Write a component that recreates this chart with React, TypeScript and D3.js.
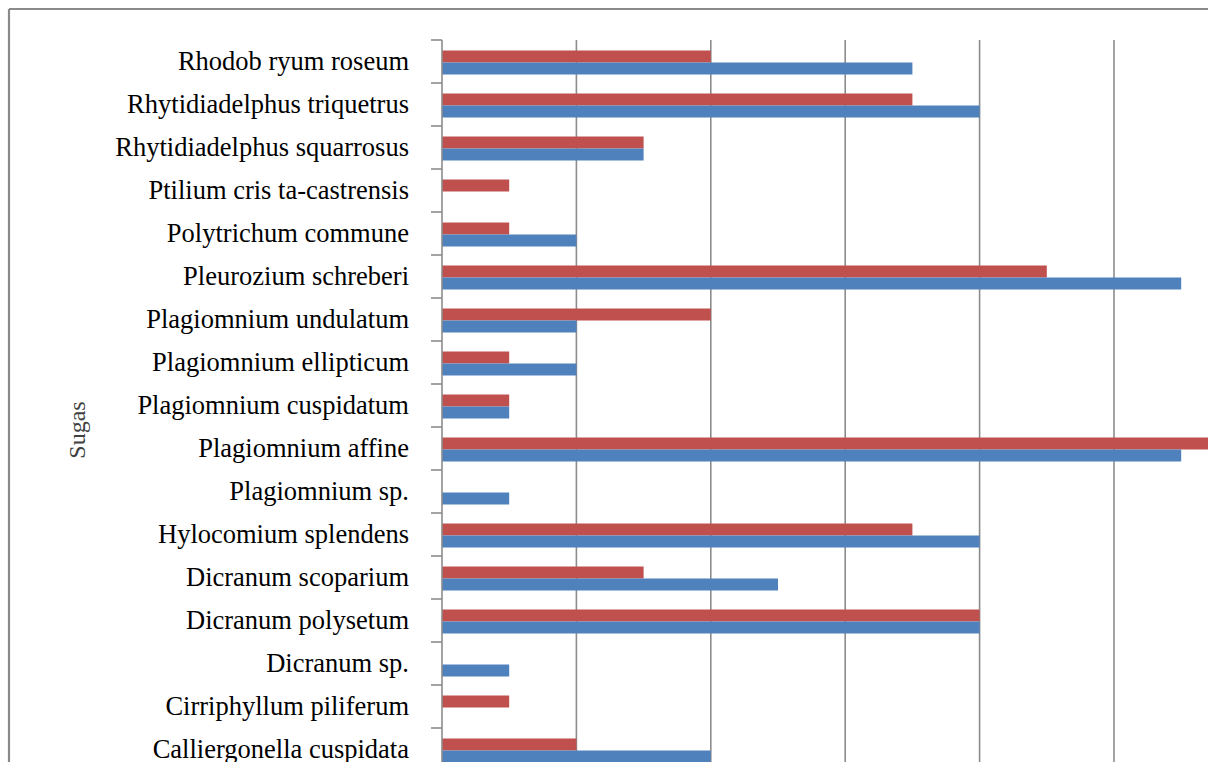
import React from "react";
import * as d3 from "d3";

const categories = [
  "Rhodob ryum roseum",
  "Rhytidiadelphus triquetrus",
  "Rhytidiadelphus squarrosus",
  "Ptilium cris ta-castrensis",
  "Polytrichum commune",
  "Pleurozium schreberi",
  "Plagiomnium undulatum",
  "Plagiomnium ellipticum",
  "Plagiomnium cuspidatum",
  "Plagiomnium affine",
  "Plagiomnium sp.",
  "Hylocomium splendens",
  "Dicranum scoparium",
  "Dicranum polysetum",
  "Dicranum sp.",
  "Cirriphyllum piliferum",
  "Calliergonella cuspidata",
];

const redValues = [4, 7, 3, 1, 1, 9, 4, 1, 1, 12, 0, 7, 3, 8, 0, 1, 2];
const blueValues = [7, 8, 3, 0, 2, 11, 2, 2, 1, 11, 1, 8, 5, 8, 1, 0, 4];
const xTicks = [0, 2, 4, 6, 8, 10, 12];
const axisTitle = "Sugas";

const W = 1208;
const H = 762;
const plotLeft = 442;
const plotTop = 40;
const bandStep = 43;
const unitPx = 67.2;

export default function App() {
  const x = d3.scaleLinear().domain([0, 12]).range([plotLeft, plotLeft + 12 * unitPx]);
  const y = d3
    .scaleBand<string>()
    .domain(categories)
    .range([plotTop, plotTop + bandStep * categories.length])
    .paddingInner(0)
    .paddingOuter(0);
  const sub = d3.scaleBand<string>().domain(["red", "blue"]).range([10.5, 34.5]).padding(0);

  const font = "'Liberation Serif', 'Times New Roman', serif";

  return (
    <svg
      width={W}
      height={H}
      style={{ position: "absolute", left: 0, top: 0, display: "block", background: "#fff" }}
    >
      {/* outer frame */}
      <line x1={9} y1={9} x2={9} y2={H} stroke="#8a8a8a" strokeWidth={2.2} />
      <line x1={9} y1={9} x2={W} y2={9} stroke="#8a8a8a" strokeWidth={2.2} />

      {/* gridlines */}
      {xTicks.filter((t) => t > 0).map((t) => (
        <line key={t} x1={x(t)} x2={x(t)} y1={plotTop} y2={H} stroke="#8c8c8c" strokeWidth={1.6} />
      ))}

      {/* bars */}
      {categories.map((c, i) => (
        <g key={c}>
          {redValues[i] > 0 && (
            <rect
              x={x(0)}
              y={(y(c) as number) + (sub("red") as number)}
              width={x(redValues[i]) - x(0)}
              height={sub.bandwidth()}
              fill="#C0504D"
            />
          )}
          {blueValues[i] > 0 && (
            <rect
              x={x(0)}
              y={(y(c) as number) + (sub("blue") as number)}
              width={x(blueValues[i]) - x(0)}
              height={sub.bandwidth()}
              fill="#4F81BD"
            />
          )}
        </g>
      ))}

      {/* y axis */}
      <line x1={plotLeft} x2={plotLeft} y1={plotTop} y2={H} stroke="#8c8c8c" strokeWidth={1.6} />
      {d3.range(categories.length + 1).map((i) => (
        <line
          key={i}
          x1={plotLeft - 11}
          x2={plotLeft}
          y1={plotTop + i * bandStep}
          y2={plotTop + i * bandStep}
          stroke="#8c8c8c"
          strokeWidth={1.6}
        />
      ))}

      {/* category labels */}
      {categories.map((c) => (
        <text
          key={c}
          x={409}
          y={(y(c) as number) + y.bandwidth() / 2}
          dy="0.33em"
          textAnchor="end"
          fontFamily={font}
          fontSize={26.5}
          fill="#000"
        >
          {c}
        </text>
      ))}

      {/* axis title */}
      <text
        transform={`translate(85,430) rotate(-90)`}
        textAnchor="middle"
        fontFamily={font}
        fontSize={24}
        fill="#404040"
      >
        {axisTitle}
      </text>
    </svg>
  );
}
